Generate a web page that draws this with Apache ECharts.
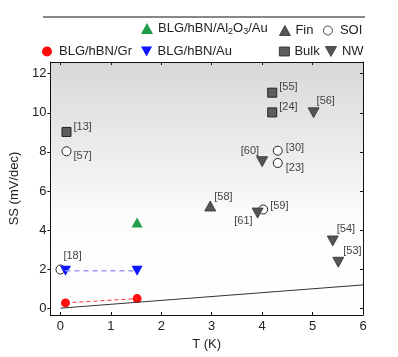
<!DOCTYPE html>
<html><head><meta charset="utf-8">
<script src="https://cdn.jsdelivr.net/npm/echarts@6/dist/echarts.min.js"></script>
<style>html,body{margin:0;padding:0;background:#fff}#c{width:398px;height:357px}</style>
</head><body><div id="c"></div>
<script>
// ---- data (T in K, SS in mV/dec) ----
const xTicks = [0, 1, 2, 3, 4, 5, 6];
const yTicks = [0, 2, 4, 6, 8, 10, 12];
const grPoints = [[0.1, 0.27], [1.52, 0.49]];          // BLG/hBN/Gr
const auPoints = [[0.1, 1.92], [1.52, 1.92]];          // BLG/hBN/Au
const al2o3Points = [[1.52, 4.38]];                    // BLG/hBN/Al2O3/Au
const limitLine = [[0, 0], [6, 1.19]];                 // thermionic limit
const finPoints = [[2.97, 5.23]];
const finRefs = ['[58]'];
const soiPoints = [[0.0, 1.98], [0.12, 8.03], [4.31, 8.06], [4.31, 7.43], [4.02, 5.05]];
const soiRefs = ['[18]', '[57]', '[30]', '[23]', '[59]'];
const bulkPoints = [[0.12, 9.02], [4.2, 11.03], [4.2, 10.02]];
const bulkRefs = ['[13]', '[55]', '[24]'];
const nwPoints = [[5.02, 10.0], [4.0, 7.5], [3.91, 4.87], [5.4, 3.44], [5.51, 2.35]];
const nwRefs = ['[56]', '[60]', '[61]', '[54]', '[53]'];

// ---- label placement (styling only) ----
const labelPlace = {
  '[13]': ['left', 7, -5], '[57]': ['left', 7, 5], '[18]': ['left', 3, -14],
  '[55]': ['left', 7, -6], '[24]': ['left', 7, -5], '[56]': ['left', 3, -12],
  '[30]': ['left', 8, -3], '[23]': ['left', 8, 5], '[60]': ['right', -3, -11],
  '[59]': ['left', 7, -4], '[61]': ['right', -5, 8], '[58]': ['left', 4, -9],
  '[54]': ['left', 4, -12], '[53]': ['left', 5, -11]
};
function withLabels(points, refs) {
  return points.map((p, i) => {
    const pl = labelPlace[refs[i]];
    return { value: p, label: { show: true, formatter: refs[i], position: 'inside',
      align: pl[0], verticalAlign: 'middle', offset: [pl[1], pl[2]] } };
  });
}
const FONT = "'Liberation Sans', Arial, sans-serif";
const DOWN = 'path://M0,0L10,0L5,9Z';
const refLabel = { fontSize: 11, color: '#444', fontFamily: FONT };

function leg(name, icon, left, top, w, h, extra) {
  return Object.assign({
    data: [{ name: name, icon: icon }], left: left, top: top, padding: 0,
    itemWidth: w, itemHeight: h, selectedMode: false,
    textStyle: { fontSize: 13, color: '#222', fontFamily: FONT }
  }, extra || {});
}
const thinBorder = { itemStyle: { borderWidth: 0.8 } };

const chart = echarts.init(document.getElementById('c'), null, { renderer: 'canvas' });
chart.setOption({
  animation: false,
  textStyle: { fontFamily: FONT },
  graphic: [{ type: 'line', shape: { x1: 43, y1: 17, x2: 365, y2: 17 },
    style: { stroke: '#111', lineWidth: 1.2 } }],
  legend: [
    leg('BLG/hBN/Al2O3/Au', 'triangle', 141, 22, 12, 11, {
      formatter: () => 'BLG/hBN/Al{sub|2}O{sub|3}/Au',
      textStyle: { fontSize: 13, color: '#222', fontFamily: FONT,
        rich: { sub: { fontSize: 9, fontFamily: FONT, color: '#222', padding: [7, 0, 0, 0] } } }
    }),
    leg('Fin', 'triangle', 279, 24, 11, 10, thinBorder),
    leg('SOI', 'circle', 323, 24, 14, 9, thinBorder),
    leg('BLG/hBN/Gr', 'circle', 42, 45, 14, 10),
    leg('BLG/hBN/Au', DOWN, 141, 45, 12, 10),
    leg('Bulk', 'rect', 279, 45, 10, 9, thinBorder),
    leg('NW', DOWN, 325, 45, 12, 10, thinBorder)
  ],
  grid: { left: 43, right: 35, top: 62, bottom: 42, show: true, borderWidth: 0,
    backgroundColor: { type: 'linear', x: 0, y: 0, x2: 0, y2: 1, colorStops: [
      { offset: 0, color: '#d7d8d8' }, { offset: 0.35, color: '#ececec' },
      { offset: 0.62, color: '#fcfcfc' }, { offset: 1, color: '#ffffff' }] } },
  xAxis: [
    { type: 'value', min: -0.2, max: 6, position: 'bottom',
      name: 'T (K)', nameLocation: 'middle', nameGap: 21,
      nameTextStyle: { fontSize: 13, color: '#222', fontFamily: FONT },
      axisLine: { show: true, onZero: false, lineStyle: { color: '#111', width: 1 } },
      axisTick: { show: true, inside: true, length: 3, customValues: xTicks, lineStyle: { color: '#111' } },
      axisLabel: { customValues: xTicks, fontSize: 13, color: '#222', margin: 5 },
      splitLine: { show: false } },
    { type: 'value', min: -0.2, max: 6, position: 'top',
      axisLine: { show: true, onZero: false, lineStyle: { color: '#111', width: 1 } },
      axisTick: { show: true, inside: true, length: 3, customValues: xTicks, lineStyle: { color: '#111' } },
      axisLabel: { show: false }, splitLine: { show: false } }
  ],
  yAxis: [
    { type: 'value', min: -0.35, max: 12.6, position: 'left',
      name: 'SS (mV/dec)', nameLocation: 'middle', nameGap: 18,
      nameTextStyle: { fontSize: 13, color: '#222', fontFamily: FONT },
      axisLine: { show: true, onZero: false, lineStyle: { color: '#111', width: 1 } },
      axisTick: { show: true, inside: false, length: 3, customValues: yTicks, lineStyle: { color: '#111' } },
      axisLabel: { customValues: yTicks, fontSize: 13, color: '#222', margin: 4 },
      splitLine: { show: false } },
    { type: 'value', min: -0.35, max: 12.6, position: 'right',
      axisLine: { show: true, onZero: false, lineStyle: { color: '#111', width: 1 } },
      axisTick: { show: true, inside: true, length: 3, customValues: yTicks, lineStyle: { color: '#111' } },
      axisLabel: { show: false }, splitLine: { show: false } }
  ],
  series: [
    { type: 'line', data: limitLine, symbol: 'none', silent: true,
      lineStyle: { color: '#333', width: 1 } },
    { type: 'line', data: grPoints, symbol: 'none', silent: true,
      lineStyle: { color: '#ff3030', width: 1, type: [4, 3] } },
    { type: 'line', data: auPoints, symbol: 'none', silent: true,
      lineStyle: { color: '#9a9aff', width: 1.5, type: [5, 4] } },
    { name: 'Bulk', type: 'scatter', data: withLabels(bulkPoints, bulkRefs), symbol: 'rect', symbolSize: 9,
      itemStyle: { color: '#5e5e5e', borderColor: '#222', borderWidth: 1, opacity: 1 }, label: refLabel },
    { name: 'Fin', type: 'scatter', data: withLabels(finPoints, finRefs), symbol: 'triangle', symbolSize: [11, 10],
      itemStyle: { color: '#555', borderColor: '#333', borderWidth: 0.8, opacity: 1 }, label: refLabel },
    { name: 'SOI', type: 'scatter', data: withLabels(soiPoints, soiRefs), symbol: 'circle', symbolSize: 9,
      itemStyle: { color: '#ffffff', borderColor: '#222', borderWidth: 1, opacity: 1 }, label: refLabel },
    { name: 'NW', type: 'scatter', data: withLabels(nwPoints, nwRefs), symbol: DOWN, symbolSize: [11, 10],
      itemStyle: { color: '#555', borderColor: '#333', borderWidth: 0.8, opacity: 1 }, label: refLabel },
    { name: 'BLG/hBN/Al2O3/Au', type: 'scatter', data: al2o3Points, symbol: 'triangle', symbolSize: [11, 10],
      itemStyle: { color: '#1e9e48', opacity: 1 } },
    { name: 'BLG/hBN/Au', type: 'scatter', data: auPoints, symbol: DOWN, symbolSize: [11, 10],
      itemStyle: { color: '#0a14ff', opacity: 1 } },
    { name: 'BLG/hBN/Gr', type: 'scatter', data: grPoints, symbol: 'circle', symbolSize: 9,
      itemStyle: { color: '#ff0a0a', opacity: 1 } }
  ]
});
</script></body></html>
